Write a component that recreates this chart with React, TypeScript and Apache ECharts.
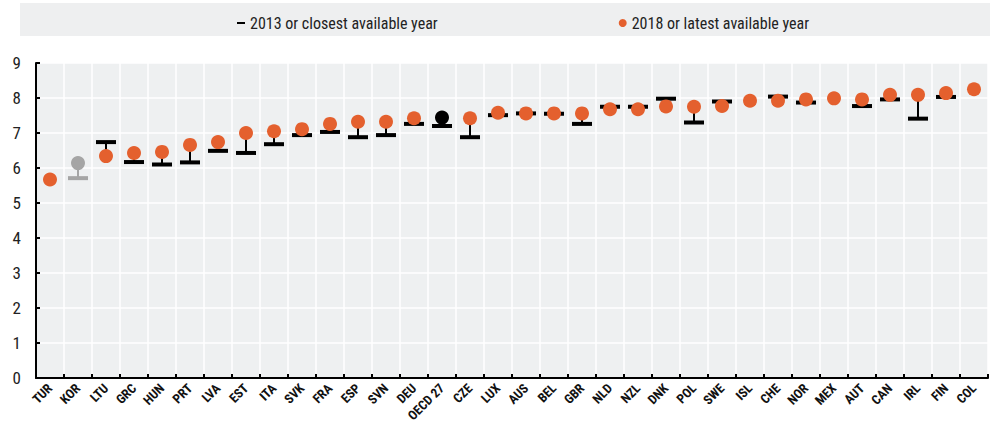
import React, { useEffect, useRef } from "react";
import * as echarts from "echarts";

const categories = ["TUR","KOR","LTU","GRC","HUN","PRT","LVA","EST","ITA","SVK","FRA","ESP","SVN","DEU","OECD 27","CZE","LUX","AUS","BEL","GBR","NLD","NZL","DNK","POL","SWE","ISL","CHE","NOR","MEX","AUT","CAN","IRL","FIN","COL"];
const values2013: (number | null)[] = [null,5.71,6.74,6.17,6.1,6.16,6.49,6.43,6.68,6.94,7.03,6.88,6.94,7.26,7.2,6.88,7.51,7.56,7.55,7.26,7.75,7.75,7.98,7.3,7.9,null,8.04,7.87,null,7.77,7.96,7.41,8.03,null];
const values2018: number[] = [5.67,6.14,6.34,6.43,6.46,6.66,6.74,7.0,7.05,7.11,7.26,7.32,7.32,7.42,7.44,7.42,7.58,7.56,7.56,7.56,7.68,7.68,7.76,7.75,7.77,7.92,7.92,7.96,7.99,7.96,8.09,8.09,8.14,8.25];
const yTicks = [0,1,2,3,4,5,6,7,8,9];
const seriesNames = ["2013 or closest available year", "2018 or latest available year"];

const ORANGE = "#e4602e";
const GREY = "#a5a5a5";
const BLACK = "#000000";
const FONT = '"Liberation Sans Narrow", "Arial Narrow", "Roboto Condensed", "Liberation Sans", Arial, sans-serif';

function colorFor(name: string, base: string) {
  if (name === "KOR") return GREY;
  if (name === "OECD 27") return BLACK;
  return base;
}

export default function App() {
  const ref = useRef<HTMLDivElement>(null);
  useEffect(() => {
    if (!ref.current) return;
    const chart = echarts.init(ref.current, null, { renderer: "svg" });
    const customData: any[] = [];
    values2013.forEach((v, i) => {
      if (v !== null) customData.push([i, v, values2018[i]]);
    });
    const option: any = {
      animation: false,
      textStyle: { fontFamily: FONT },
      graphic: [
        { type: "rect", z: -10, shape: { x: 20, y: 3, width: 970, height: 33 }, style: { fill: "#eeeff0" } },
      ],
      legend: {
        top: 10,
        left: 232,
        itemGap: 181,
        itemWidth: 8,
        itemHeight: 8,
        textStyle: { fontFamily: FONT, fontSize: 16, color: "#222" },
        data: [
          { name: seriesNames[0], icon: "path://M0,0h8v2h-8z", itemStyle: { color: BLACK } },
          { name: seriesNames[1], icon: "circle", itemStyle: { color: ORANGE } },
        ],
      },
      grid: { left: 36, right: 12, top: 63, bottom: 63, show: true, backgroundColor: "#eef0f1", borderWidth: 0 },
      xAxis: [{
        type: "category",
        data: categories,
        axisLine: { lineStyle: { color: BLACK, width: 2 } },
        axisTick: { show: true, inside: true, length: 4, lineStyle: { color: BLACK, width: 2 } },
        splitLine: { show: true, lineStyle: { color: "#ffffff", width: 1.5 } },
        axisLabel: { rotate: 45, interval: 0, fontSize: 13, fontWeight: "bold", color: "#111", fontFamily: FONT },
      }],
      yAxis: {
        type: "value",
        min: 0,
        max: 9,
        interval: 1,
        axisLine: { show: true, lineStyle: { color: BLACK, width: 2 } },
        axisTick: { show: true, inside: true, length: 4, lineStyle: { color: BLACK, width: 2 } },
        splitLine: { show: true, lineStyle: { color: "#ffffff", width: 1.5 } },
        axisLabel: {
          fontSize: 17, color: "#222", fontFamily: FONT, margin: 15,
          formatter: (v: number) => (yTicks.includes(v) ? String(v) : ""),
        },
      },
      series: [
        {
          name: seriesNames[0],
          type: "custom",
          z: 2,
          data: customData,
          encode: { x: 0, y: 1 },
          renderItem: (params: any, api: any) => {
            const idx = api.value(0);
            const p13 = api.coord([idx, api.value(1)]);
            const p18 = api.coord([idx, api.value(2)]);
            const c = colorFor(categories[idx], BLACK);
            return {
              type: "group",
              children: [
                { type: "line", shape: { x1: p13[0], y1: p13[1], x2: p18[0], y2: p18[1] }, style: { stroke: c, lineWidth: 2 } },
                { type: "rect", shape: { x: p13[0] - 10, y: p13[1] - 2, width: 20, height: 4 }, style: { fill: c } },
              ],
            };
          },
        },
        {
          name: seriesNames[1],
          type: "scatter",
          z: 3,
          symbolSize: 14,
          data: values2018.map((v, i) => ({ value: [i, v], itemStyle: { color: colorFor(categories[i], ORANGE) } })),
          itemStyle: { color: ORANGE, opacity: 1 },
        },
      ],
    };
    chart.setOption(option);
    return () => chart.dispose();
  }, []);
  return <div ref={ref} style={{ position: "absolute", left: 0, top: 0, width: 1000, height: 441 }} />;
}
